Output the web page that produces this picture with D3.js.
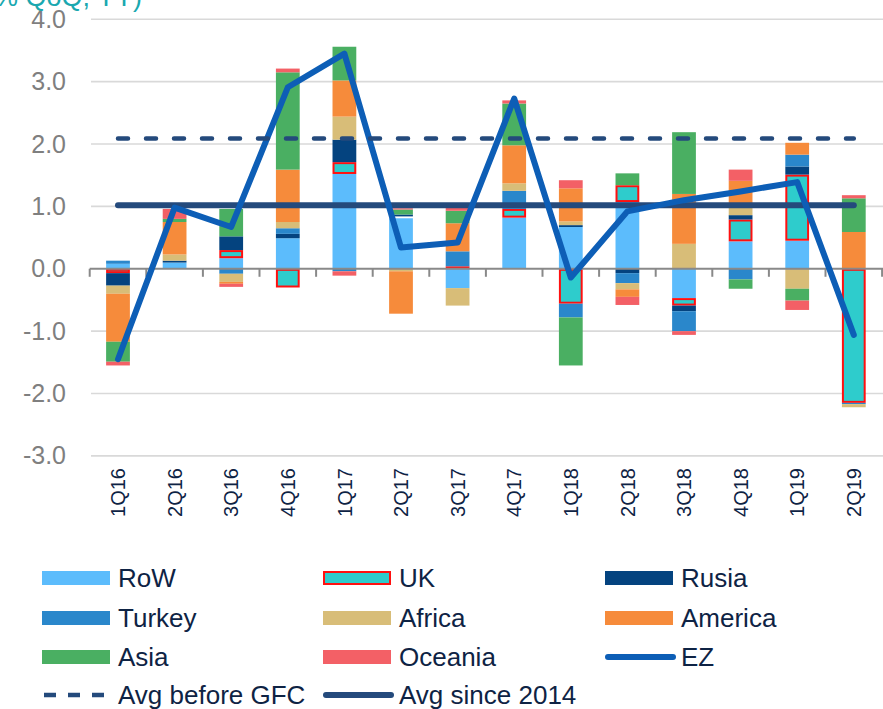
<!DOCTYPE html>
<html><head><meta charset="utf-8">
<script src="https://cdn.jsdelivr.net/npm/d3@7"></script>
<style>
html,body{margin:0;padding:0;background:#fff;}
svg{display:block;font-family:"Liberation Sans",Arial,sans-serif;}
</style></head>
<body><svg id="chart" width="883" height="709"></svg>
<script>
const categories = ["1Q16","2Q16","3Q16","4Q16","1Q17","2Q17","3Q17","4Q17","1Q18","2Q18","3Q18","4Q18","1Q19","2Q19"];
const RoW     = [0.08, 0.10, 0.17, 0.49, 1.52, 0.81, -0.31, 0.82, 0.67, 1.07, -0.47, 0.44, 0.45, 0.00];
const UK      = [-0.07, 0.00, 0.13, -0.30, 0.19, 0.03, 0.04, 0.14, -0.56, 0.27, -0.12, 0.35, 1.06, -2.15];
const Rusia   = [-0.20, 0.03, 0.22, 0.07, 0.36, 0.03, 0.00, 0.00, 0.03, -0.07, -0.09, 0.07, 0.13, 0.00];
const Turkey  = [0.05, 0.00, -0.08, 0.09, -0.04, 0.00, 0.24, 0.29, -0.22, -0.16, -0.32, -0.17, 0.19, -0.02];
const Africa  = [-0.13, 0.10, -0.13, 0.10, 0.37, -0.04, -0.28, 0.12, 0.06, -0.10, 0.40, 0.12, -0.32, -0.05];
const America = [-0.77, 0.52, -0.03, 0.84, 0.58, -0.68, 0.45, 0.61, 0.53, -0.12, 0.80, 0.43, 0.19, 0.59];
const Asia    = [-0.32, 0.05, 0.44, 1.56, 0.54, 0.08, 0.20, 0.67, -0.77, 0.19, 0.99, -0.15, -0.19, 0.54];
const Oceania = [-0.06, 0.16, -0.05, 0.06, -0.07, 0.02, 0.06, 0.05, 0.13, -0.13, -0.06, 0.18, -0.15, 0.05];
const EZ      = [-1.45, 0.98, 0.67, 2.91, 3.45, 0.34, 0.42, 2.73, -0.14, 0.92, 1.10, 1.24, 1.39, -1.06];
const avgBeforeGFC = 2.09;
const avgSince2014 = 1.02;
const yTicks = [4, 3, 2, 1, 0, -1, -2, -3];
const yTickLabels = ["4.0","3.0","2.0","1.0","0.0","-1.0","-2.0","-3.0"];
const seriesNames = ["RoW","UK","Rusia","Turkey","Africa","America","Asia","Oceania"];
const seriesValues = [RoW, UK, Rusia, Turkey, Africa, America, Asia, Oceania];
const seriesColors = ["#5CBCFC","#2ECCCC","#04437F","#2A87CB","#D8BD78","#F68B3B","#4AAF62","#F36066"];
const titleText = "(% QoQ, YY)";

const svg = d3.select("#chart");
svg.append("rect").attr("width",883).attr("height",709).attr("fill","#fff");

const x = d3.scaleBand().domain(categories).range([89.7, 882.1]).paddingInner(0.58).paddingOuter(0.29);
const y = d3.scaleLinear().domain([-3, 4]).range([455.9, 19.3]);

// gridlines
svg.append("g").selectAll("line").data(yTicks.filter(d => d !== 0)).join("line")
  .attr("x1", 91).attr("x2", 883).attr("y1", d => y(d)).attr("y2", d => y(d))
  .attr("stroke", "#D9D9D9").attr("stroke-width", 1.6);

// y axis labels
const yAxis = svg.append("g").attr("transform", "translate(90,0)")
  .call(d3.axisLeft(y).tickValues(yTicks).tickFormat((d, i) => yTickLabels[i]).tickSize(0).tickPadding(24));
yAxis.select(".domain").remove();
yAxis.selectAll("text").attr("font-size", 25).attr("fill", "#7F7F7F").attr("font-family", "Liberation Sans, Arial, sans-serif");

// stacked bars
const table = categories.map((c, i) => {
  const o = {cat: c};
  seriesNames.forEach((s, k) => o[s] = seriesValues[k][i]);
  return o;
});
const stack = d3.stack().keys(seriesNames).order(d3.stackOrderNone).offset(d3.stackOffsetDiverging)(table);
const color = d3.scaleOrdinal().domain(seriesNames).range(seriesColors);

const barG = svg.append("g");
stack.forEach(layer => {
  const isUK = layer.key === "UK";
  barG.append("g").selectAll("rect").data(layer.filter(d => Math.abs(d[1] - d[0]) > 1e-9)).join("rect")
    .attr("x", d => x(d.data.cat) + (isUK ? 1 : 0))
    .attr("width", x.bandwidth() - (isUK ? 2 : 0))
    .attr("y", d => Math.min(y(d[0]), y(d[1])) + (isUK ? 1 : 0))
    .attr("height", d => Math.max(0, Math.abs(y(d[0]) - y(d[1])) - (isUK ? 2 : 0)))
    .attr("fill", color(layer.key))
    .attr("stroke", isUK ? "#FF1010" : "none")
    .attr("stroke-width", isUK ? 2 : 0);
});

// zero axis line with ticks at category boundaries
const step = x.step();
const gap = (step - x.bandwidth()) / 2;
const bounds = categories.map(c => x(c) - gap).concat([x(categories[categories.length - 1]) + x.bandwidth() + gap]);
const axG = svg.append("g");
axG.append("line").attr("x1", x.range()[0]).attr("x2", 883).attr("y1", y(0)).attr("y2", y(0))
  .attr("stroke", "#898989").attr("stroke-width", 2);
axG.selectAll(".tk").data(bounds).join("line").attr("class", "tk")
  .attr("x1", d => d).attr("x2", d => d).attr("y1", y(0)).attr("y2", y(0) + 8)
  .attr("stroke", "#898989").attr("stroke-width", 2);

// x labels
const xAxis = svg.append("g").attr("transform", "translate(0,468)")
  .call(d3.axisBottom(x).tickSize(0).tickPadding(0));
xAxis.select(".domain").remove();
xAxis.selectAll("text")
  .attr("x", 0).attr("y", 0).attr("dy", "0.36em")
  .attr("transform", "rotate(-90)")
  .attr("text-anchor", "end")
  .attr("font-size", 20).attr("fill", "#0E2344")
  .attr("font-family", "Liberation Sans, Arial, sans-serif");

const cx = c => x(c) + x.bandwidth() / 2;
// avg since 2014
svg.append("path").datum(categories)
  .attr("d", d3.line().x(c => cx(c)).y(() => y(avgSince2014)))
  .attr("fill", "none").attr("stroke", "#244A7C").attr("stroke-width", 6).attr("stroke-linecap", "round");

// EZ line
svg.append("path").datum(categories)
  .attr("d", d3.line().x(c => cx(c)).y((c, i) => y(EZ[i])))
  .attr("fill", "none").attr("stroke", "#0D5EB6").attr("stroke-width", 6)
  .attr("stroke-linejoin", "round").attr("stroke-linecap", "round");

// avg before GFC dashed
svg.append("path").datum(categories)
  .attr("d", d3.line().x(c => cx(c)).y(() => y(avgBeforeGFC)))
  .attr("fill", "none").attr("stroke", "#244A7C").attr("stroke-width", 4.5)
  .attr("stroke-dasharray", "10 18").attr("stroke-linecap", "round");

// title (cut at top)
svg.append("text").attr("x", 142).attr("y", 6).attr("text-anchor", "end")
  .attr("font-size", 27).attr("fill", "#1AA8B0").text(titleText);

// legend
const legendItems = [
  {name: "RoW", type: "rect", color: seriesColors[0]},
  {name: "UK", type: "rect", color: seriesColors[1], stroke: "#FF1010"},
  {name: "Rusia", type: "rect", color: seriesColors[2]},
  {name: "Turkey", type: "rect", color: seriesColors[3]},
  {name: "Africa", type: "rect", color: seriesColors[4]},
  {name: "America", type: "rect", color: seriesColors[5]},
  {name: "Asia", type: "rect", color: seriesColors[6]},
  {name: "Oceania", type: "rect", color: seriesColors[7]},
  {name: "EZ", type: "line", color: "#0D5EB6"},
  {name: "Avg before GFC", type: "dash", color: "#244A7C"},
  {name: "Avg since 2014", type: "line", color: "#244A7C"}
];
const colX = [42, 323, 605];
const rowY = [578, 618, 657, 695];
const lg = svg.append("g");
legendItems.forEach((it, i) => {
  const sx = colX[i % 3], sy = rowY[Math.floor(i / 3)];
  const g = lg.append("g");
  if (it.type === "rect") {
    g.append("rect").attr("x", sx + (it.stroke ? 1 : 0)).attr("y", sy - 7 + (it.stroke ? 1 : 0))
      .attr("width", 68 - (it.stroke ? 2 : 0)).attr("height", 14 - (it.stroke ? 2 : 0))
      .attr("fill", it.color).attr("stroke", it.stroke || "none").attr("stroke-width", it.stroke ? 2 : 0);
  } else if (it.type === "line") {
    g.append("line").attr("x1", sx + 3).attr("x2", sx + 68).attr("y1", sy).attr("y2", sy)
      .attr("stroke", it.color).attr("stroke-width", 6).attr("stroke-linecap", "round");
  } else {
    g.append("line").attr("x1", sx + 2).attr("x2", sx + 68).attr("y1", sy).attr("y2", sy)
      .attr("stroke", it.color).attr("stroke-width", 4.5).attr("stroke-dasharray", "12 12");
  }
  g.append("text").attr("x", sx + 76).attr("y", sy + 9).attr("font-size", 26)
    .attr("fill", "#0E2344").text(it.name);
});
</script>
</body></html>
